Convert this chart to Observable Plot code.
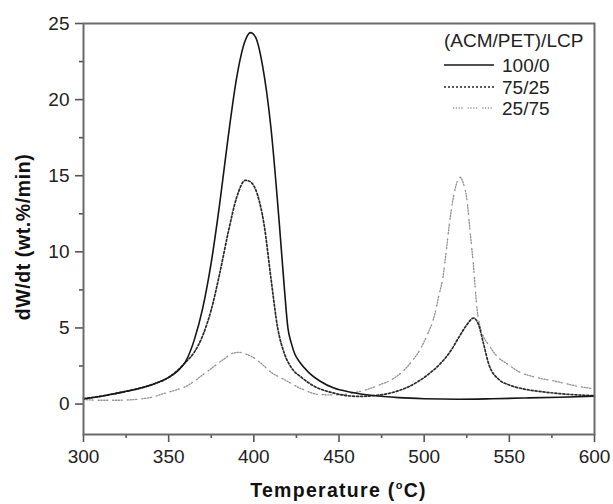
<!DOCTYPE html>
<html><head><meta charset="utf-8">
<script src="https://cdn.jsdelivr.net/npm/d3@7"></script>
<script src="https://cdn.jsdelivr.net/npm/@observablehq/plot@0.6"></script>
<style>body{margin:0;background:#fff} svg{display:block}</style>
</head><body><div id="chart"></div>
<script>
// ---- data ----
const seriesNames = ["100/0", "75/25", "25/75"];
const legendTitle = "(ACM/PET)/LCP";
const xTitle = ["Temperature (", "o", "C)"];
const yTitle = "dW/dt (wt.%/min)";

const temp100 = [300,310,320,330,340,350,355,360,365,370,375,380,385,390,395,398,401,405,410,415,418,420,422,424,427,432,439,447,457,470,485,500,520,540,560,580,600];
const val100  = [0.35,0.5,0.72,0.95,1.27,1.75,2.15,2.8,4.2,6.3,9.3,13.2,17.6,21.5,23.9,24.4,24.1,22.3,18.2,11.8,7.5,5.0,4.0,3.3,2.75,2.1,1.5,1.05,0.78,0.56,0.42,0.35,0.32,0.35,0.4,0.45,0.52];

const temp7525 = [300,320,340,350,360,365,370,375,380,385,390,395,398,402,406,410,414,418,422,428,435,447,455,462,470,480,488,496,503,509,515,521,525,529,532,535,538,544,550,558,570,580,600];
const val7525  = [0.35,0.72,1.27,1.75,2.75,3.4,4.5,6.2,8.6,11.3,13.6,14.7,14.6,13.8,11.8,8.3,5.0,3.3,2.4,1.75,1.2,0.72,0.55,0.5,0.55,0.72,1.0,1.45,2.0,2.6,3.4,4.5,5.2,5.65,5.2,3.9,2.6,1.6,1.25,1.0,0.8,0.68,0.55];

const temp2575 = [300,310,320,330,340,348,355,360,365,371,377,383,388,391,395,399,405,410,418,428,439,450,458,466,474,480,486,492,497.5,502,505.5,509,511,513,515,518,521,523,525,527,529,531,533,535,538.4,543,548,556,564,577,591,600];
const val2575  = [0.3,0.25,0.25,0.3,0.45,0.72,0.95,1.15,1.5,2.0,2.5,3.0,3.35,3.4,3.3,3.1,2.6,2.1,1.6,1.0,0.62,0.6,0.72,0.94,1.27,1.55,2.0,2.7,3.56,4.6,5.6,7.3,8.3,10.1,12.0,14.05,14.9,14.5,13.5,11.3,9.0,6.3,5.0,4.4,3.8,3.1,2.7,2.1,1.8,1.5,1.15,1.0];

const xTicks = [300,350,400,450,500,550,600];
const xMinorTicks = [325,375,425,475,525,575];
const yTicks = [0,5,10,15,20,25];
const yMinorTicks = [2.5,7.5,12.5,17.5,22.5];

// ---- styles ----
const styles = {
  "100/0": {stroke: "#161616", strokeWidth: 1.6, dash: null},
  "75/25": {stroke: "#2a2a2a", strokeWidth: 1.7, dash: "2,2"},
  "25/75": {stroke: "#8f8f8f", strokeWidth: 1.3, dash: "1.2,1.6,1.2,1.6,1.2,1.6,1.2,5"}
};
const FONT = "'Liberation Sans', Arial, Helvetica, sans-serif";
const AXIS = "#555";

const seriesData = {
  "100/0": temp100.map((t, i) => ({t, v: val100[i]})),
  "75/25": temp7525.map((t, i) => ({t, v: val7525[i]})),
  "25/75": temp2575.map((t, i) => ({t, v: val2575[i]}))
};

const W = 613, H = 504, mL = 83, mR = 19, mT = 23, mB = 70;

const lines = seriesNames.slice().reverse().map(name => Plot.line(seriesData[name], {
  x: "t", y: "v", curve: "monotone-x",
  stroke: styles[name].stroke, strokeWidth: styles[name].strokeWidth,
  strokeDasharray: styles[name].dash || undefined
}));

const plot = Plot.plot({
  width: W, height: H,
  marginLeft: mL, marginRight: mR, marginTop: mT, marginBottom: mB,
  style: {fontFamily: FONT},
  x: {domain: [300, 600]},
  y: {domain: [-2, 25]},
  marks: [
    ...lines,
    Plot.axisX({ticks: xMinorTicks, tickSize: 4, text: null, stroke: AXIS, strokeWidth: 1.6, label: null}),
    Plot.axisX({ticks: xTicks, tickSize: 8, tickPadding: 7, fontSize: 19, stroke: AXIS, strokeWidth: 1.6, label: null}),
    Plot.axisY({ticks: yMinorTicks, tickSize: 4, text: null, stroke: AXIS, strokeWidth: 1.6, label: null}),
    Plot.axisY({ticks: yTicks, tickSize: 8, tickPadding: 6, fontSize: 19, stroke: AXIS, strokeWidth: 1.6, label: null}),
    Plot.frame({stroke: "#6a6a6a", strokeWidth: 2})
  ]
});

const svg = d3.select(plot);
svg.selectAll("text").attr("fill", "#222");

// x title with superscript degree
const xt = svg.append("text")
  .attr("x", (mL + W - mR) / 2).attr("y", 497)
  .attr("text-anchor", "middle")
  .attr("font-family", FONT).attr("font-weight", "bold").attr("font-size", 19.5)
  .attr("letter-spacing", "1.3px").attr("fill", "#111");
xt.append("tspan").text(xTitle[0]);
xt.append("tspan").text(xTitle[1]).attr("font-size", 11).attr("dy", -8);
xt.append("tspan").text(xTitle[2]).attr("dy", 8);

// y title
svg.append("text")
  .attr("transform", "translate(30,237) rotate(-90)")
  .attr("text-anchor", "middle")
  .attr("font-family", FONT).attr("font-weight", "bold").attr("font-size", 19.5)
  .attr("letter-spacing", "0.6px").attr("fill", "#111")
  .text(yTitle);

// legend
const lg = svg.append("g").attr("font-family", FONT).attr("font-size", 19).attr("fill", "#222").attr("text-anchor", "start");
lg.append("text").attr("x", 444).attr("y", 47).attr("text-anchor", "start").text(legendTitle);
const rowLineY = [65, 87, 108];
const rowLineX1 = [444, 444, 453];
seriesNames.forEach((name, i) => {
  const s = styles[name];
  lg.append("line")
    .attr("x1", rowLineX1[i]).attr("x2", 494)
    .attr("y1", rowLineY[i]).attr("y2", rowLineY[i])
    .attr("stroke", s.stroke).attr("stroke-width", s.strokeWidth)
    .attr("stroke-dasharray", s.dash);
  lg.append("text").attr("x", 502).attr("y", rowLineY[i] + 7).attr("text-anchor", "start").text(name);
});

document.getElementById("chart").appendChild(plot);
</script>
</body></html>
